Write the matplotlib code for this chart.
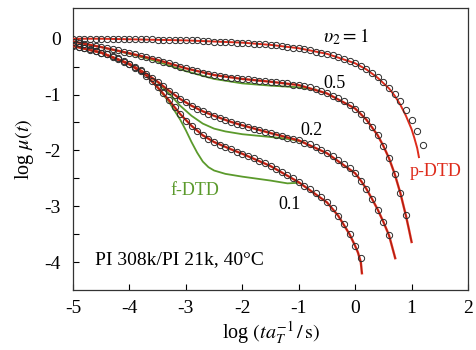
import numpy as np
import matplotlib
matplotlib.use('Agg')
import matplotlib.pyplot as plt

plt.rcParams['font.family'] = ['Liberation Serif', 'DejaVu Serif']
plt.rcParams['mathtext.fontset'] = 'stix'
plt.rcParams['axes.unicode_minus'] = False

# log(t a_T^-1) positions of the measured points
x_data = [-5.0, -4.9, -4.8, -4.7, -4.6, -4.5, -4.4, -4.3, -4.2, -4.1,
          -4.0, -3.9, -3.8, -3.7, -3.6, -3.5, -3.4, -3.3, -3.2, -3.1,
          -3.0, -2.9, -2.8, -2.7, -2.6, -2.5, -2.4, -2.3, -2.2, -2.1,
          -2.0, -1.9, -1.8, -1.7, -1.6, -1.5, -1.4, -1.3, -1.2, -1.1,
          -1.0, -0.9, -0.8, -0.7, -0.6, -0.5, -0.4, -0.3, -0.2, -0.1,
          0.0, 0.1, 0.2, 0.3, 0.4, 0.5, 0.6, 0.7, 0.8, 0.9,
          1.0, 1.1, 1.2]

# log mu(t) data, v2 = 1, 0.5, 0.2, 0.1
mu_10 = [0.00, 0.00, 0.00, 0.00, 0.00, 0.00, 0.00, -0.01, -0.01, -0.01,
         -0.01, -0.01, -0.01, -0.01, -0.01, -0.02, -0.02, -0.02, -0.02, -0.02,
         -0.03, -0.03, -0.03, -0.04, -0.04, -0.05, -0.05, -0.06, -0.06, -0.07,
         -0.07, -0.08, -0.09, -0.09, -0.10, -0.11, -0.12, -0.13, -0.15, -0.16,
         -0.17, -0.19, -0.21, -0.23, -0.25, -0.27, -0.30, -0.33, -0.36, -0.40,
         -0.44, -0.49, -0.55, -0.62, -0.69, -0.78, -0.88, -0.99, -1.12, -1.27,
         -1.45, -1.66, -1.90]
mu_05 = [-0.05, -0.07, -0.09, -0.11, -0.13, -0.15, -0.17, -0.19, -0.21, -0.23,
         -0.26, -0.28, -0.31, -0.33, -0.36, -0.38, -0.41, -0.44, -0.47, -0.50,
         -0.53, -0.56, -0.58, -0.61, -0.63, -0.65, -0.67, -0.68, -0.70, -0.71,
         -0.72, -0.73, -0.74, -0.75, -0.76, -0.77, -0.78, -0.79, -0.80, -0.82,
         -0.83, -0.85, -0.87, -0.90, -0.94, -0.98, -1.02, -1.07, -1.12, -1.18,
         -1.25, -1.34, -1.45, -1.58, -1.73, -1.92, -2.14, -2.42, -2.76, -3.15]
mu_02 = [-0.12, -0.14, -0.16, -0.19, -0.22, -0.25, -0.28, -0.31, -0.35, -0.40,
         -0.45, -0.50, -0.56, -0.63, -0.70, -0.77, -0.85, -0.93, -1.01, -1.08,
         -1.14, -1.20, -1.25, -1.30, -1.34, -1.38, -1.42, -1.46, -1.49, -1.52,
         -1.55, -1.58, -1.61, -1.64, -1.67, -1.69, -1.72, -1.74, -1.77, -1.79,
         -1.82, -1.86, -1.89, -1.94, -1.99, -2.05, -2.10, -2.17, -2.24, -2.32,
         -2.41, -2.54, -2.69, -2.87, -3.06, -3.28, -3.52]
mu_01 = [-0.13, -0.15, -0.17, -0.20, -0.22, -0.25, -0.28, -0.32, -0.36, -0.41,
         -0.46, -0.52, -0.58, -0.66, -0.76, -0.87, -0.98, -1.10, -1.22, -1.35,
         -1.47, -1.56, -1.65, -1.73, -1.80, -1.85, -1.90, -1.94, -1.98, -2.02,
         -2.06, -2.10, -2.14, -2.19, -2.23, -2.28, -2.33, -2.38, -2.44, -2.50,
         -2.57, -2.63, -2.69, -2.76, -2.84, -2.93, -3.04, -3.17, -3.32, -3.50,
         -3.71, -3.93]

# p-DTD predictions (red)
p_x_10 = [-5, -4.5, -4, -3.5, -3, -2.5, -2, -1.5, -1, -0.5, 0, 0.2, 0.4, 0.6,
          0.7, 0.8, 0.9, 1.0, 1.05, 1.1, 1.13]
p_y_10 = [0, 0, -0.01, -0.02, -0.03, -0.05, -0.07, -0.11, -0.17, -0.27, -0.44,
          -0.55, -0.70, -0.89, -1.02, -1.18, -1.38, -1.62, -1.78, -1.96, -2.12]
p_x_05 = [-5, -4.5, -4, -3.5, -3, -2.5, -2, -1.5, -1, -0.5, 0, 0.2, 0.4, 0.5,
          0.6, 0.7, 0.8, 0.9, 0.95, 1.0]
p_y_05 = [-0.05, -0.15, -0.26, -0.38, -0.53, -0.65, -0.72, -0.77, -0.83, -0.98,
          -1.25, -1.45, -1.73, -1.92, -2.14, -2.42, -2.76, -3.17, -3.40, -3.64]
p_x_02 = [-5, -4.5, -4, -3.7, -3.5, -3.3, -3.1, -2.9, -2.7, -2.5, -2.2, -2,
          -1.5, -1, -0.5, 0, 0.1, 0.2, 0.3, 0.4, 0.5, 0.6, 0.71]
p_y_02 = [-0.12, -0.25, -0.45, -0.63, -0.77, -0.93, -1.08, -1.20, -1.30, -1.38,
          -1.49, -1.55, -1.69, -1.82, -2.05, -2.41, -2.54, -2.69, -2.87, -3.06,
          -3.28, -3.52, -3.93]
p_x_01 = [-5, -4.5, -4, -3.7, -3.5, -3.3, -3.1, -2.9, -2.7, -2.5, -2.2, -2,
          -1.5, -1, -0.5, -0.3, -0.1, 0, 0.05, 0.1, 0.12]
p_y_01 = [-0.13, -0.25, -0.46, -0.66, -0.87, -1.10, -1.35, -1.56, -1.73, -1.85,
          -1.98, -2.06, -2.28, -2.57, -2.93, -3.17, -3.50, -3.71, -3.83, -4.00,
          -4.20]

# f-DTD predictions (green), drawn until they merge with p-DTD
f_x_05 = [-5, -4.5, -4, -3.5, -3, -2.5, -2, -1.5, -1, -0.7]
f_y_05 = [-0.05, -0.15, -0.27, -0.41, -0.58, -0.72, -0.80, -0.84, -0.87, -0.91]
f_x_02 = [-5, -4.5, -4, -3.7, -3.5, -3.3, -3.1, -2.9, -2.7, -2.5, -2.3, -2,
          -1.7, -1.5, -1.3, -1.1, -0.9]
f_y_02 = [-0.12, -0.25, -0.45, -0.63, -0.78, -0.98, -1.20, -1.38, -1.52, -1.61,
          -1.66, -1.71, -1.74, -1.76, -1.78, -1.81, -1.86]
f_x_01 = [-5, -4.5, -4, -3.7, -3.5, -3.3, -3.1, -3.0, -2.9, -2.8, -2.7, -2.6,
          -2.5, -2.3, -2.0, -1.5, -1.2, -1.0]
f_y_01 = [-0.13, -0.25, -0.46, -0.66, -0.88, -1.13, -1.45, -1.64, -1.85, -2.04,
          -2.20, -2.30, -2.36, -2.42, -2.47, -2.54, -2.59, -2.58]

red = '#de2c1c'
green = '#5b9a2c'

fig = plt.figure(figsize=(4.76, 3.5), dpi=100)
ax = fig.add_axes([0.1534, 0.1714, 0.8298, 0.8057])

for fx, fy in [(f_x_05, f_y_05), (f_x_02, f_y_02), (f_x_01, f_y_01)]:
    ax.plot(fx, fy, color=green, lw=1.3, zorder=2)

ax.plot(p_x_10, p_y_10, color=red, lw=1.4, zorder=3)
for px, py in [(p_x_05, p_y_05), (p_x_02, p_y_02), (p_x_01, p_y_01)]:
    ax.plot(px, py, color=red, lw=1.7, zorder=3)
    ax.plot(px, py, color='#7a150a', lw=0.35, zorder=3)

for mu in [mu_10, mu_05, mu_02, mu_01]:
    ax.plot(x_data[:len(mu)], mu, 'o', mfc='none', mec='#2a2a2a',
            ms=4.5, mew=0.7, zorder=4)

ax.text(-0.16, 0.04, r'$\upsilon_2 = 1$', fontsize=14, ha='center', va='center')
ax.text(-0.36, -0.80, '0.5', fontsize=13, ha='center', va='center')
ax.text(-0.78, -1.64, '0.2', fontsize=13, ha='center', va='center')
ax.text(-1.16, -2.96, '0.1', fontsize=13, ha='center', va='center')
ax.text(-2.84, -2.71, 'f-DTD', fontsize=13, color=green, ha='center', va='center')
ax.text(1.43, -2.38, 'p-DTD', fontsize=13, color=red, ha='center', va='center')
ax.text(-4.61, -3.96, 'PI 308k/PI 21k, 40\u00b0C', fontsize=14, ha='left', va='center')

ax.set_xlim(-5, 2)
ax.set_ylim(-4.5, 0.55)
ax.set_xticks([-5, -4, -3, -2, -1, 0, 1, 2])
ax.set_yticks([0, -1, -2, -3, -4])
ax.set_yticks([-0.5, -1.5, -2.5, -3.5], minor=True)
ax.tick_params(direction='in', labelsize=14, length=4, width=0.8)
ax.tick_params(axis='y', which='minor', direction='in', length=4, width=0.8)
ax.tick_params(axis='x', pad=7)
ax.tick_params(axis='y', pad=9)
for s in ax.spines.values():
    s.set_linewidth(0.9)
    s.set_color('#333333')

ax.set_xlabel(r'log $(ta_T^{-1}\,/\,\mathrm{s})$', fontsize=14.5, labelpad=2)
ax.set_ylabel(r'log $\mu(t)$', fontsize=14.5, labelpad=6)

plt.savefig('out.png', dpi=100)
